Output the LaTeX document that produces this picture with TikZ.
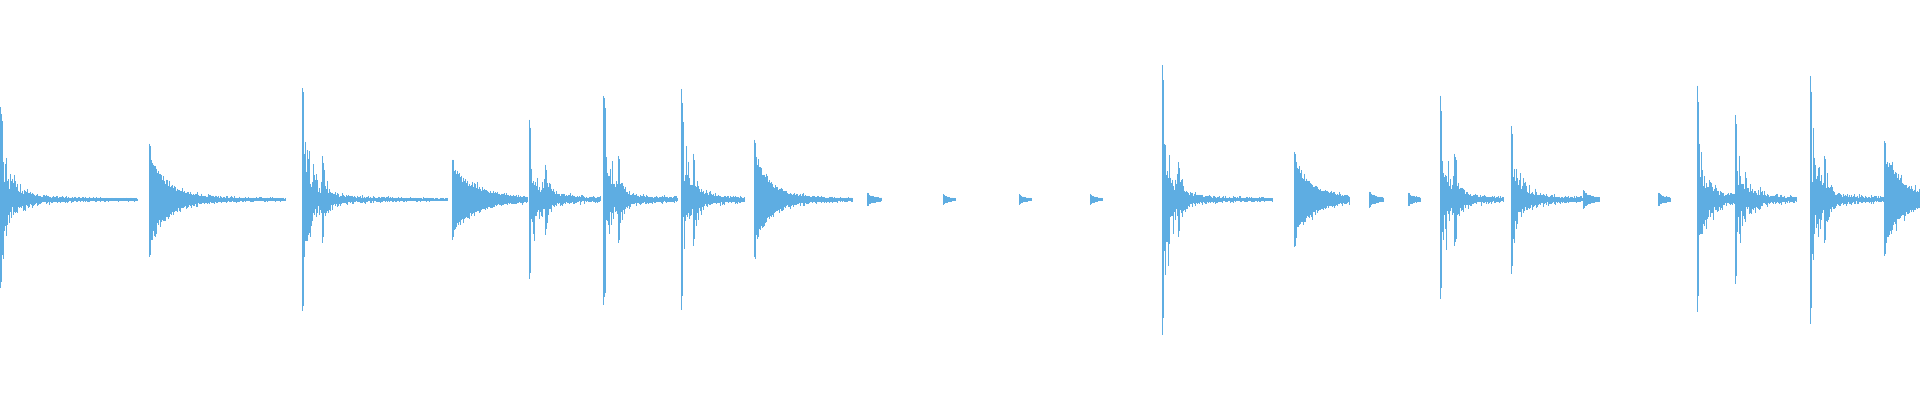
\documentclass[tikz,border=0pt]{standalone}
\usepackage{tikz}
\definecolor{waveblue}{RGB}{94,173,226}
\tikzset{
    wave/.style={draw=waveblue, line width=0.55pt} % one sample line
}
% hit: x0, peak, decay, tail, length, spread
\newcommand{\wavehit}[6]{%
    \foreach \i in {0,0.5,...,#5} {
        \pgfmathsetmacro{\env}{#2*exp(-\i/#3)}
        \pgfmathsetmacro{\hup}{\env*(\i<1.5 ? 1 : 1-#6+#6*rnd*rnd) + #4*(0.2+0.8*rnd*rnd)*exp(-\i/60) + 0.6}
        \pgfmathsetmacro{\hdn}{\env*(\i<1.5 ? 1 : 1-#6+#6*rnd*rnd) + #4*(0.2+0.8*rnd*rnd)*exp(-\i/60) + 0.6}
        \draw[wave] (#1+\i, 164+\hup) -- (#1+\i, 164-\hdn);
    }%
}

\begin{document}
\begin{tikzpicture}[x=1.2245pt, y=1.2245pt]
    \useasboundingbox (0,0) rectangle (1568,327);
    \pgfmathsetseed{3}
    % first half
    \wavehit{0}{70}{10}{7}{112}{0.85}
    \wavehit{122}{41}{14}{7}{111}{0.35}
    \wavehit{247}{89}{9}{7}{118}{0.85}
    \wavehit{263}{35}{6}{0}{12}{0.7}
    \wavehit{369}{30}{18}{7}{62}{0.35}
    \wavehit{432}{63}{9}{7}{58}{0.85}
    \wavehit{445}{28}{6}{0}{12}{0.7}
    \wavehit{493}{82}{8}{7}{60}{0.85}
    \wavehit{505}{35}{6}{0}{12}{0.7}
    \wavehit{556}{87}{8}{7}{52}{0.85}
    \wavehit{566}{37}{6}{0}{12}{0.7}
    \wavehit{616}{45}{12}{7}{80}{0.35}
    \wavehit{708}{5}{8}{0}{12}{0.3}
    \wavehit{770}{4}{6}{0}{10}{0.3}
    \wavehit{832}{4}{6}{0}{10}{0.3}
    \wavehit{890}{4}{6}{0}{10}{0.3}
    % second half
    \wavehit{949}{107}{8}{7}{90}{0.85}
    \wavehit{962}{30}{6}{0}{12}{0.7}
    \wavehit{1057}{36}{14}{7}{45}{0.35}
    \wavehit{1118}{6}{8}{0}{12}{0.3}
    \wavehit{1150}{5}{8}{0}{10}{0.3}
    \wavehit{1176}{79}{8}{7}{52}{0.85}
    \wavehit{1188}{37}{6}{0}{12}{0.7}
    \wavehit{1234}{58}{9}{7}{72}{0.85}
    \wavehit{1293}{7}{8}{0}{12}{0.3}
    \wavehit{1354}{5}{8}{0}{10}{0.3}
    \wavehit{1386}{87}{8}{7}{30}{0.85}
    \wavehit{1417}{66}{9}{7}{50}{0.85}
    \wavehit{1478}{96}{8}{7}{60}{0.85}
    \wavehit{1490}{35}{6}{0}{12}{0.7}
    \wavehit{1539}{44}{14}{7}{29}{0.35}
\end{tikzpicture}
\end{document}
